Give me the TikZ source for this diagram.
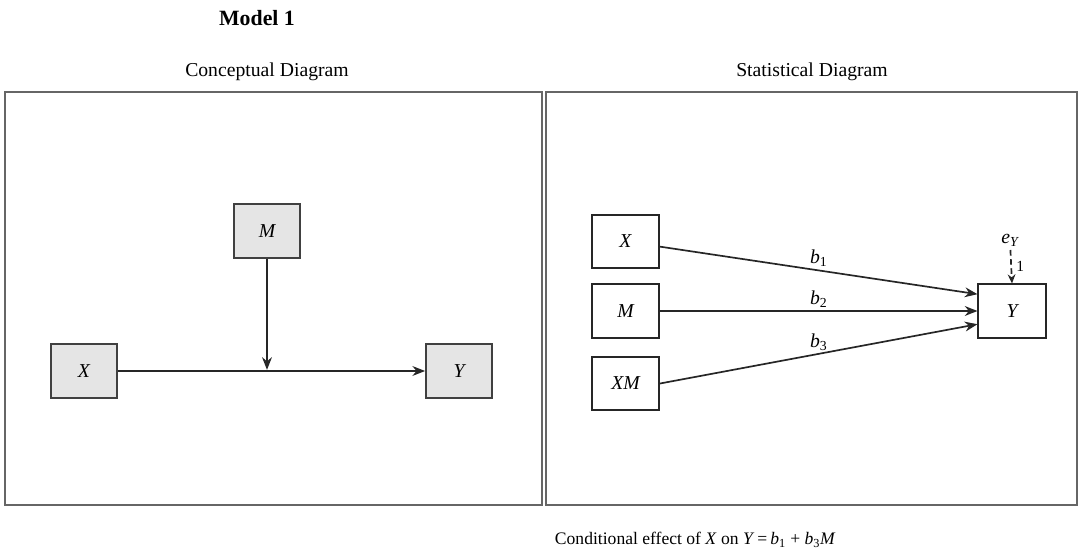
\documentclass[tikz,border=0pt]{standalone}
\usepackage{fontspec}
\setmainfont{Liberation Serif}
\usetikzlibrary{arrows.meta}
\tikzset{
panel/.style={draw=black!60, line width=1.4pt},
title/.style={font=\fontsize{14}{16}\selectfont},
cbox/.style={draw=black!75, line width=1.3pt, fill=black!10, minimum width=1.65cm, minimum height=1.35cm, font=\fontsize{14}{16}\selectfont\itshape},
sbox/.style={draw=black!85, line width=1.3pt, fill=white, minimum width=1.68cm, minimum height=1.33cm, font=\fontsize{14}{16}\selectfont\itshape},
link/.style={draw=black!85, line width=1.2pt, -{Stealth[length=9pt,width=7pt]}},
elink/.style={draw=black!85, line width=1.2pt, dash pattern=on 4pt off 2.5pt, -{Stealth[length=6.5pt,width=5.5pt]}},
coef/.style={font=\fontsize{14}{16}\selectfont\itshape, inner sep=2pt}
}

\begin{document}
\begin{tikzpicture}[x=0.025cm, y=-0.025cm]
\useasboundingbox (0,0) rectangle (1080,551);

\node[font=\fontsize{15.5}{18}\selectfont\bfseries] (mtitle) at (257,18) {Model 1};
\node[title] (ctitle) at (267,72) {Conceptual Diagram};
\node[title] (stitle) at (812,72) {Statistical Diagram};

\draw[panel] (5,92) rectangle (542,505);
\draw[panel] (546,92) rectangle (1077,505);

\node[cbox] (cM) at (267,231) {M};
\node[cbox] (cX) at (84,371) {X};
\node[cbox] (cY) at (459,371) {Y};
\coordinate (cJ) at (cM |- cX);
\draw[link] (cX) -- (cY);
\draw[link] (cM) -- ([yshift=0.8pt]cJ);

\node[sbox] (sX) at (625.5,241.5) {X};
\node[sbox] (sM) at (625.5,311) {M};
\node[sbox] (sXM) at (625.5,383.5) {XM};
\node[sbox] (sY) at (1012,311) {Y};
\draw[link] (sX) -- ([yshift=0.42cm]sY.west) node[coef, midway, above] {b\textsubscript{\upshape 1}};
\draw[link] (sM) -- (sY.west) node[coef, midway, above] {b\textsubscript{\upshape 2}};
\draw[link] (sXM.east) -- ([yshift=-0.33cm]sY.west) node[coef, midway, above] {b\textsubscript{\upshape 3}};

\node[coef, anchor=south] (eY) at (1010,250) {e\textsubscript{Y}};
\draw[elink] (eY) -- (sY.north) node[midway, right, inner sep=3pt, font=\fontsize{11}{13}\selectfont] {1};

\node[anchor=west, font=\fontsize{12.5}{15}\selectfont] (cond) at (550,540) {Conditional effect of \textit{X} on \textit{Y}\,=\,\textit{b}\textsubscript{1} + \textit{b}\textsubscript{3}\textit{M}};
\end{tikzpicture}
\end{document}
